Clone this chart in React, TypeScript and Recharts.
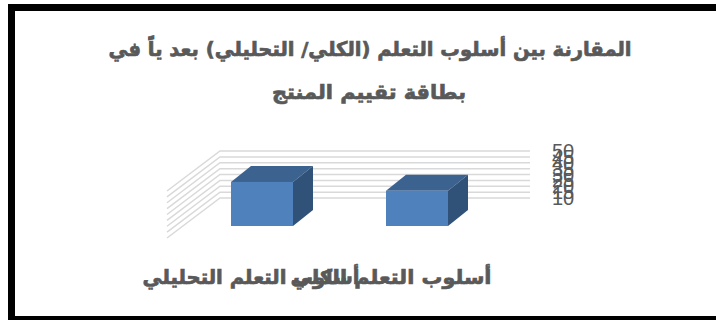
import { BarChart, Bar, XAxis, YAxis, CartesianGrid } from 'recharts';

const categories = ['أسلوب التعلم التحليلي', 'أسلوب التعلم الكلي'];
const scores = [47.5, 40];
const yTicks = [10, 15, 20, 25, 30, 35, 40, 45, 50];
const titleLines = ['المقارنة بين  أسلوب التعلم (الكلي/ التحليلي) بعد ياً في', 'بطاقة تقييم المنتج'];

const chartData = categories.map((name, i) => ({ name, score: scores[i] }));

const FONT = '"DejaVu Sans", sans-serif';
const TEXT = '#595959';

// Floating wall and box offsets for the fake 3D look
const SIDE_DX = -53;
const SIDE_DY = 40;
const BAR_DX = -36;
const BAR_DY = 28;
const DEPTH_X = 20;
const DEPTH_Y = -16;

function GridLine(props: any) {
  const { x1, x2, y1 } = props;
  return (
    <path
      d={`M${x1 + SIDE_DX} ${y1 + SIDE_DY}L${x1} ${y1}L${x2} ${y1}`}
      fill="none"
      stroke="#d9d9d9"
      strokeWidth={1.5}
    />
  );
}

function Box3D(props: any) {
  const { x, y, width, height } = props;
  const left = x + BAR_DX;
  const right = left + width;
  const top = y + BAR_DY;
  const bottom = top + height;
  return (
    <g>
      <path
        d={`M${left} ${top}L${left + DEPTH_X} ${top + DEPTH_Y}L${right + DEPTH_X} ${top + DEPTH_Y}L${right} ${top}Z`}
        fill="#3c638f"
      />
      <path
        d={`M${right} ${top}L${right + DEPTH_X} ${top + DEPTH_Y}L${right + DEPTH_X} ${bottom + DEPTH_Y}L${right} ${bottom}Z`}
        fill="#305279"
      />
      <rect x={left} y={top} width={width} height={height} fill="#4f81bd" />
    </g>
  );
}

// Heavy Arabic text, thickened with a thin outline
const heavyText = {
  direction: 'rtl' as const,
  textAnchor: 'middle' as const,
  fontFamily: FONT,
  fontWeight: 700,
  fill: TEXT,
  stroke: TEXT,
  strokeWidth: 0.7,
  lengthAdjust: 'spacingAndGlyphs' as const,
};

// Category labels sit below the floor and run into each other
const tickCentres = [251, 391];
const tickWidths = [217, 201];

function CategoryTick(props: any) {
  const { index, payload } = props;
  return (
    <text
      {...heavyText}
      x={tickCentres[index]}
      y={284}
      fontSize={20}
      textLength={tickWidths[index]}
    >
      {payload.value}
    </text>
  );
}

const titleCentres = [370, 369];
const titleBaselines = [56, 99];
const titleWidths = [523, 194];

export default function App() {
  return (
    <div
      style={{
        position: 'fixed',
        left: 0,
        top: 0,
        width: 716,
        height: 320,
        background: '#fff',
        overflow: 'hidden',
      }}
    >
      {/* frame runs off the right edge */}
      <div
        style={{
          position: 'absolute',
          left: 8,
          top: 4,
          width: 720,
          height: 316,
          boxSizing: 'border-box',
          borderLeft: '7px solid #000',
          borderTop: '7px solid #000',
          borderBottom: '4px solid #000',
        }}
      />
      <BarChart
        width={716}
        height={320}
        data={chartData}
        margin={{ top: 151, right: 0, bottom: 0, left: 220 }}
        style={{ position: 'absolute', left: 0, top: 0 }}
      >
        <CartesianGrid vertical={false} horizontal={GridLine as any} />
        <XAxis
          dataKey="name"
          height={122}
          axisLine={false}
          tickLine={false}
          interval={0}
          tick={CategoryTick as any}
        />
        <YAxis
          orientation="right"
          width={186}
          domain={[10, 50]}
          ticks={yTicks}
          interval={0}
          axisLine={false}
          tickLine={false}
          tickMargin={16}
          tick={{ fontFamily: '"Liberation Sans", sans-serif', fontSize: 20, fill: TEXT }}
        />
        <Bar dataKey="score" barSize={62} shape={Box3D as any} isAnimationActive={false} />
        {titleLines.map((line, i) => (
          <text
            key={i}
            {...heavyText}
            x={titleCentres[i]}
            y={titleBaselines[i]}
            fontSize={20}
            textLength={titleWidths[i]}
          >
            {line}
          </text>
        ))}
      </BarChart>
    </div>
  );
}
